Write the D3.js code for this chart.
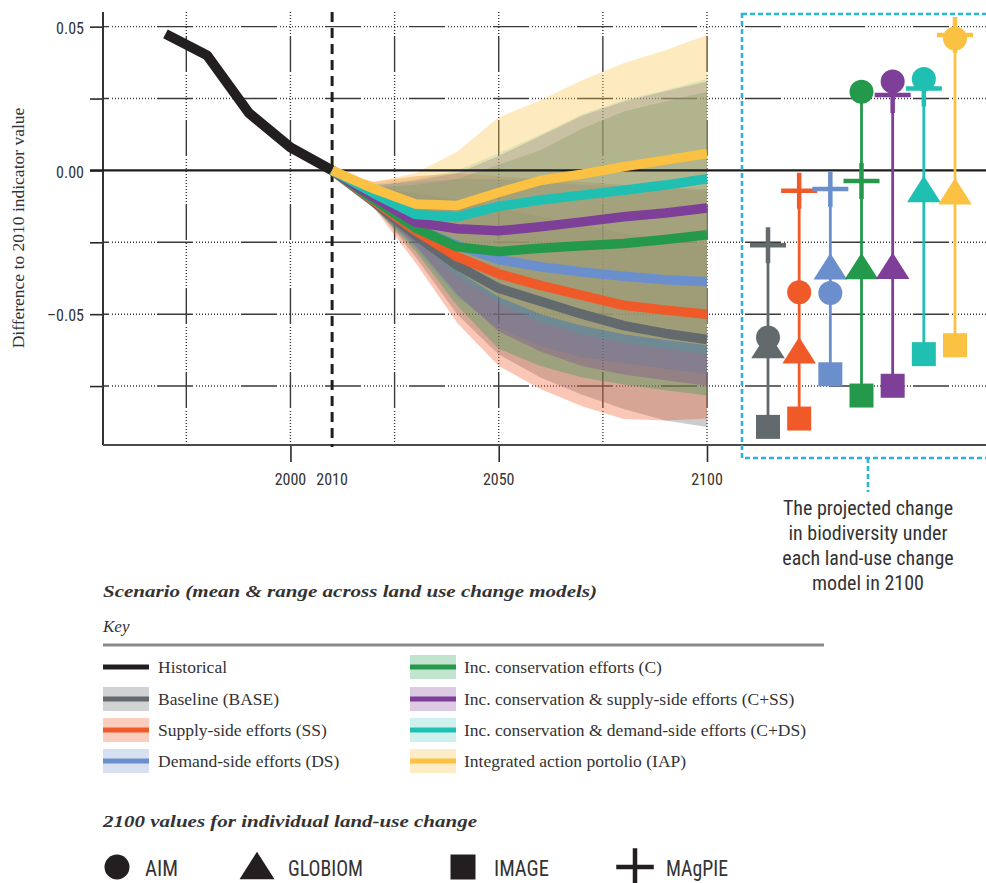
<!DOCTYPE html>
<html>
<head>
<meta charset="utf-8">
<script src="https://cdn.jsdelivr.net/npm/d3@7"></script>
<style>
  body { margin: 0; background: #fff; }
  svg { display: block; }
  .serif { font-family: 'Liberation Serif', 'DejaVu Serif', serif; }
  .cond { font-family: 'Liberation Sans Narrow', 'Roboto Condensed', 'DejaVu Sans Condensed', 'Arial Narrow', sans-serif; }
</style>
</head>
<body>
<svg id="chart" width="986" height="883"></svg>
<script>
// ---------- data ----------
const histYears  = [1970, 1980, 1990, 2000, 2010];
const histValues = [0.0475, 0.040, 0.020, 0.008, 0.000];

const years = [2010, 2020, 2030, 2040, 2050, 2060, 2070, 2080, 2090, 2100];

const scenarioKeys   = ["BASE", "SS", "DS", "C", "C+SS", "C+DS", "IAP"];
const scenarioLabels = ["Baseline (BASE)", "Supply-side efforts (SS)", "Demand-side efforts (DS)",
                        "Inc. conservation efforts (C)", "Inc. conservation & supply-side efforts (C+SS)",
                        "Inc. conservation & demand-side efforts (C+DS)", "Integrated action portolio (IAP)"];

// scenario means across land-use change models
const meanBASE = [0, -0.0110, -0.0225, -0.0330, -0.0410, -0.0455, -0.0500, -0.0540, -0.0567, -0.0588];
const meanSS   = [0, -0.0105, -0.0210, -0.0300, -0.0360, -0.0400, -0.0435, -0.0469, -0.0486, -0.0500];
const meanDS   = [0, -0.0100, -0.0200, -0.0260, -0.0310, -0.0335, -0.0353, -0.0368, -0.0380, -0.0387];
const meanC    = [0, -0.0101, -0.0200, -0.0266, -0.0282, -0.0271, -0.0262, -0.0254, -0.0240, -0.0224];
const meanCSS  = [0, -0.0092, -0.0180, -0.0203, -0.0210, -0.0196, -0.0179, -0.0161, -0.0148, -0.0131];
const meanCDS  = [0, -0.0080, -0.0153, -0.0162, -0.0125, -0.0103, -0.0086, -0.0069, -0.0051, -0.0029];
const meanIAP  = [0, -0.0064, -0.0117, -0.0122, -0.0077, -0.0035, -0.0013, 0.0013, 0.0036, 0.0059];

// range across models (low / high)
const lowBASE  = [0, -0.012, -0.030, -0.050, -0.064, -0.072, -0.078, -0.083, -0.087, -0.0892];
const highBASE = [0, -0.006, -0.008, -0.010, -0.013, -0.016, -0.019, -0.022, -0.024, -0.0260];
const lowSS    = [0, -0.013, -0.032, -0.053, -0.068, -0.076, -0.082, -0.0865, -0.087, -0.0863];
const highSS   = [0, -0.004, -0.002, -0.001, -0.002, -0.003, -0.004, -0.005, -0.006, -0.0071];
const lowDS    = [0, -0.013, -0.027, -0.044, -0.055, -0.061, -0.065, -0.067, -0.069, -0.0709];
const highDS   = [0, -0.005, -0.004, -0.003, -0.003, -0.004, -0.005, -0.0055, -0.006, -0.0065];
const lowC     = [0, -0.013, -0.028, -0.047, -0.062, -0.068, -0.072, -0.0745, -0.0765, -0.0783];
const highC    = [0, -0.006, -0.005, -0.003, 0.002, 0.007, 0.0145, 0.0205, 0.024, 0.0274];
const lowCSS   = [0, -0.013, -0.026, -0.043, -0.056, -0.063, -0.068, -0.071, -0.073, -0.0749];
const highCSS  = [0, -0.0055, -0.0035, -0.001, 0.005, 0.012, 0.019, 0.024, 0.0275, 0.0309];
const lowCDS   = [0, -0.012, -0.023, -0.037, -0.046, -0.053, -0.057, -0.060, -0.062, -0.0639];
const highCDS  = [0, -0.005, -0.003, 0.000, 0.006, 0.0125, 0.0195, 0.0245, 0.028, 0.0318];
const lowIAP   = [0, -0.011, -0.022, -0.035, -0.044, -0.050, -0.054, -0.057, -0.059, -0.0608];
const highIAP  = [0, -0.004, -0.001, 0.0065, 0.0185, 0.0244, 0.0314, 0.0373, 0.0418, 0.0471];

// 2100 values for each land-use change model, one per scenario
const modelNames = ["AIM", "GLOBIOM", "IMAGE", "MAgPIE"];
const aim2100     = [-0.0581, -0.0424, -0.0426, 0.0274, 0.0309, 0.0318, 0.0459];
const globiom2100 = [-0.0623, -0.0641, -0.0349, -0.0348, -0.0347, -0.0080, -0.0088];
const image2100   = [-0.0892, -0.0863, -0.0709, -0.0783, -0.0749, -0.0639, -0.0608];
const magpie2100  = [-0.0260, -0.0071, -0.0065, -0.0037, 0.0262, 0.0285, 0.0471];

const yTickValues = [-0.075, -0.05, -0.025, 0, 0.025, 0.05];
const yTickLabels = {"0.05": "0.05", "0": "0.00", "-0.05": "\u20130.05"};
const xGridYears  = [1975, 2000, 2025, 2050, 2075, 2100];
const xLabelYears = [2000, 2010, 2050, 2100];
const xTickYears  = [2000, 2050, 2100];

// ---------- styles ----------
const colors = {"BASE": "#636a6e", "SS": "#f05a28", "DS": "#6b8fcd", "C": "#25994b",
                "C+SS": "#7e3f98", "C+DS": "#1fbfb1", "IAP": "#fbc142"};
const bandOpacity = {"BASE": 0.34, "SS": 0.34, "DS": 0.32, "C": 0.32,
                     "C+SS": 0.32, "C+DS": 0.2, "IAP": 0.34};
const histColor = "#231f20";
const boxColor = "#2bb3d9";
const textColor = "#333";

// ---------- assemble tables ----------
const means = [meanBASE, meanSS, meanDS, meanC, meanCSS, meanCDS, meanIAP];
const lows  = [lowBASE, lowSS, lowDS, lowC, lowCSS, lowCDS, lowIAP];
const highs = [highBASE, highSS, highDS, highC, highCSS, highCDS, highIAP];
const scenarios = scenarioKeys.map((k, i) => ({
  key: k, label: scenarioLabels[i],
  pts: years.map((yr, j) => ({year: yr, mean: means[i][j], lo: lows[i][j], hi: highs[i][j]})),
  models: {AIM: aim2100[i], GLOBIOM: globiom2100[i], IMAGE: image2100[i], MAgPIE: magpie2100[i]}
}));
const hist = histYears.map((yr, i) => ({year: yr, v: histValues[i]}));

// ---------- scales ----------
const svg = d3.select("#chart");
const x = d3.scaleLinear().domain([1955, 2100]).range([103, 707]);
const y = d3.scaleLinear().domain([-0.0955, 0.0551]).range([445, 12]);
const xCol = d3.scalePoint().domain(scenarioKeys).range([768, 955]);
const plotLeft = 103, plotTop = 12, plotBottom = 445, rightEdge = 986;

// grid pattern: a solid run followed by a dotted run
function mixedDash(solid, dots) {
  const a = [solid, 3];
  for (let i = 0; i < dots; i++) a.push(1, 2);
  return a.join(",");
}

// ---------- grid ----------
const grid = svg.append("g");
grid.selectAll("line.h").data(yTickValues.filter(v => v !== 0)).join("line")
  .attr("x1", plotLeft).attr("x2", rightEdge)
  .attr("y1", d => y(d)).attr("y2", d => y(d))
  .attr("stroke", "#3a3a3a").attr("stroke-width", 1.4)
  .attr("stroke-dasharray", mixedDash(36, 15)).attr("stroke-dashoffset", 30);
grid.selectAll("line.v").data(xGridYears).join("line")
  .attr("x1", d => x(d)).attr("x2", d => x(d))
  .attr("y1", plotTop).attr("y2", plotBottom)
  .attr("stroke", "#3a3a3a").attr("stroke-width", 1.4)
  .attr("stroke-dasharray", mixedDash(36, 15)).attr("stroke-dashoffset", 60);

// y axis with ticks reaching out to the left
const yAxis = d3.axisLeft(y).tickValues(yTickValues).tickSize(13)
  .tickFormat(d => yTickLabels[String(d)] || "");
const gy = svg.append("g").attr("transform", `translate(${plotLeft},0)`).call(yAxis);
gy.select(".domain").remove();
gy.selectAll(".tick line").attr("stroke", "#2a2a2a").attr("stroke-width", 1.6);
gy.selectAll(".tick text").attr("class", "cond").attr("x", -19).attr("dy", "0.42em")
  .attr("font-size", 16).attr("fill", textColor);
svg.append("line").attr("x1", plotLeft).attr("x2", plotLeft).attr("y1", plotTop).attr("y2", plotBottom)
  .attr("stroke", "#333").attr("stroke-width", 2);

// x axis
const xAxis = d3.axisBottom(x).tickValues(xTickYears).tickSize(17).tickFormat("");
const gx = svg.append("g").attr("transform", `translate(0,${plotBottom})`).call(xAxis);
gx.select(".domain").remove();
gx.selectAll(".tick line").attr("stroke", "#2a2a2a").attr("stroke-width", 1.6);
svg.append("g").selectAll("text").data(xLabelYears).join("text")
  .attr("class", "cond").attr("x", d => x(d)).attr("y", 485)
  .attr("text-anchor", "middle").attr("font-size", 16).attr("fill", textColor)
  .text(d => d);
svg.append("line").attr("x1", plotLeft).attr("x2", rightEdge).attr("y1", plotBottom).attr("y2", plotBottom)
  .attr("stroke", "#4a4a4a").attr("stroke-width", 2);

// y axis title
svg.append("text").attr("class", "serif")
  .attr("transform", "translate(24,228) rotate(-90)")
  .attr("text-anchor", "middle").attr("font-size", 17.5).attr("fill", textColor)
  .text("Difference to 2010 indicator value");

// ---------- bands ----------
const area = d3.area().x(d => x(d.year)).y0(d => y(d.lo)).y1(d => y(d.hi));
svg.append("g").selectAll("path").data(scenarios).join("path")
  .attr("d", d => area(d.pts))
  .attr("fill", d => colors[d.key]).attr("fill-opacity", d => bandOpacity[d.key]);

// zero line
svg.append("line").attr("x1", 90).attr("x2", rightEdge).attr("y1", y(0)).attr("y2", y(0))
  .attr("stroke", "#1e1e1e").attr("stroke-width", 2.4);

// 2010 marker
svg.append("line").attr("x1", x(2010)).attr("x2", x(2010)).attr("y1", plotTop).attr("y2", plotBottom + 2)
  .attr("stroke", "#1e1e1e").attr("stroke-width", 3).attr("stroke-dasharray", "10,6");

// ---------- lines ----------
svg.append("path").datum(hist)
  .attr("d", d3.line().x(d => x(d.year)).y(d => y(d.v)))
  .attr("fill", "none").attr("stroke", histColor).attr("stroke-width", 10)
  .attr("stroke-linejoin", "round");

const meanLine = d3.line().x(d => x(d.year)).y(d => y(d.mean));
svg.append("g").selectAll("path").data(scenarios).join("path")
  .attr("d", d => meanLine(d.pts))
  .attr("fill", "none").attr("stroke", d => colors[d.key]).attr("stroke-width", 9.5)
  .attr("stroke-linejoin", "round");

// ---------- 2100 model values ----------
function markerPath(model, size) {
  if (model === "AIM") return d3.symbol(d3.symbolCircle, Math.PI * (size / 2) ** 2)();
  if (model === "IMAGE") return d3.symbol(d3.symbolSquare, size * size)();
  if (model === "GLOBIOM") {
    const w = size * 1.4, h = size * 1.1;
    return `M0,${-2 * h / 3}L${w / 2},${h / 3}L${-w / 2},${h / 3}Z`;
  }
  const s = size * 0.75;
  return `M${-s},0H${s}M0,${-s}V${s}`;
}

const panel = svg.append("g");
scenarios.forEach(sc => {
  const vals = modelNames.map(m => sc.models[m]);
  const cx = xCol(sc.key);
  panel.append("line").attr("x1", cx).attr("x2", cx)
    .attr("y1", y(d3.max(vals))).attr("y2", y(d3.min(vals)))
    .attr("stroke", colors[sc.key]).attr("stroke-width", 2.8);
  modelNames.forEach(m => {
    const p = panel.append("path").attr("d", markerPath(m, 24))
      .attr("transform", `translate(${cx},${y(sc.models[m])})`);
    if (m === "MAgPIE") p.attr("fill", "none").attr("stroke", colors[sc.key]).attr("stroke-width", 4.5);
    else p.attr("fill", colors[sc.key]);
  });
});

// annotation box
svg.append("rect").attr("x", 742).attr("y", 14).attr("width", 270).attr("height", 444)
  .attr("fill", "none").attr("stroke", boxColor).attr("stroke-width", 2.6)
  .attr("stroke-dasharray", "5,3");
svg.append("line").attr("x1", 868).attr("x2", 868).attr("y1", 458).attr("y2", 492)
  .attr("stroke", boxColor).attr("stroke-width", 2.6).attr("stroke-dasharray", "5,3");
const noteLines = ["The projected change", "in biodiversity under", "each land-use change", "model in 2100"];
svg.append("g").selectAll("text").data(noteLines).join("text")
  .attr("class", "cond").attr("x", 868).attr("y", (d, i) => 515 + i * 25)
  .attr("text-anchor", "middle").attr("font-size", 20).attr("fill", textColor)
  .text(d => d);

// ---------- key ----------
svg.append("text").attr("class", "serif").attr("x", 103).attr("y", 597)
  .attr("font-size", 17).attr("font-weight", "bold").attr("font-style", "italic")
  .attr("fill", textColor).attr("textLength", 494).attr("lengthAdjust", "spacingAndGlyphs")
  .text("Scenario (mean & range across land use change models)");
svg.append("text").attr("class", "serif").attr("x", 103).attr("y", 632)
  .attr("font-size", 17).attr("font-style", "italic").attr("fill", textColor).text("Key");
svg.append("line").attr("x1", 103).attr("x2", 824).attr("y1", 645).attr("y2", 645)
  .attr("stroke", "#8a8a8a").attr("stroke-width", 3);

const keyItems = [{label: "Historical", key: null}]
  .concat(scenarios.map(s => ({label: s.label, key: s.key})));
const rowY = [667, 699, 730, 761];
const key = svg.append("g");
keyItems.forEach((it, i) => {
  const col = i < 4 ? 0 : 1, row = i % 4;
  const sx = col === 0 ? 103 : 410, tx = col === 0 ? 158 : 464, cy = rowY[row];
  if (it.key) {
    key.append("rect").attr("x", sx).attr("y", cy - 12).attr("width", 46).attr("height", 24)
      .attr("fill", colors[it.key]).attr("fill-opacity", Math.max(0.22, bandOpacity[it.key] - 0.04));
  }
  key.append("line").attr("x1", sx).attr("x2", sx + 46).attr("y1", cy).attr("y2", cy)
    .attr("stroke", it.key ? colors[it.key] : histColor).attr("stroke-width", 5);
  key.append("text").attr("class", "serif").attr("x", tx).attr("y", cy + 6)
    .attr("font-size", 17.5).attr("fill", textColor).text(it.label);
});

// model symbols key
svg.append("text").attr("class", "serif").attr("x", 103).attr("y", 827)
  .attr("font-size", 17).attr("font-weight", "bold").attr("font-style", "italic")
  .attr("fill", textColor).attr("textLength", 374).attr("lengthAdjust", "spacingAndGlyphs")
  .text("2100 values for individual land-use change");
const symX = [117, 257, 463, 635];
const symLabelX = [145, 288, 494, 666];
const symLabelW = [33, 75, 55, 62];
modelNames.forEach((m, i) => {
  const p = svg.append("path").attr("d", markerPath(m, 25))
    .attr("transform", `translate(${symX[i]},${m === "GLOBIOM" ? 870 : 867})`);
  if (m === "MAgPIE") p.attr("fill", "none").attr("stroke", histColor).attr("stroke-width", 4.5);
  else p.attr("fill", histColor);
  svg.append("text").attr("class", "cond").attr("x", symLabelX[i]).attr("y", 876)
    .attr("font-size", 22).attr("fill", textColor)
    .attr("textLength", symLabelW[i]).attr("lengthAdjust", "spacingAndGlyphs").text(m);
});
</script>
</body>
</html>
